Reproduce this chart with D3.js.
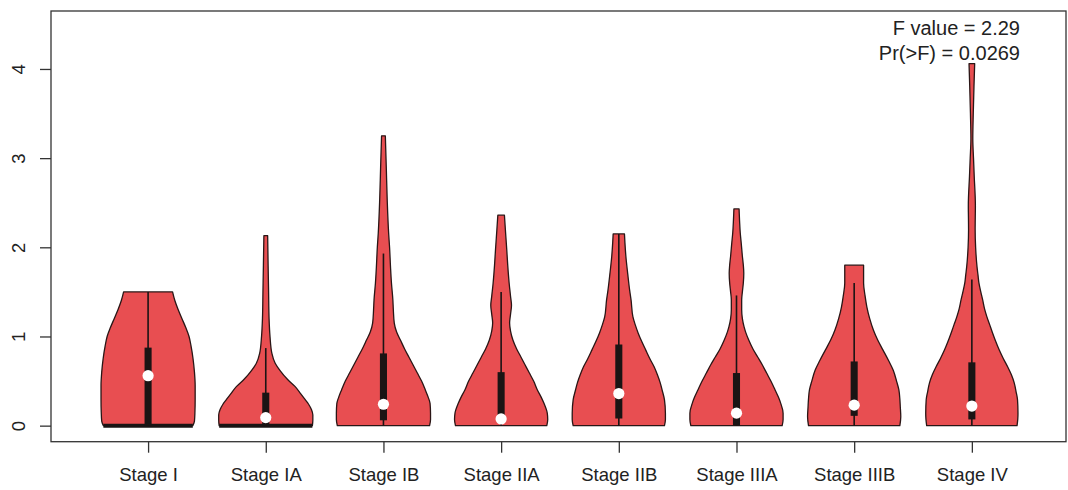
<!DOCTYPE html>
<html>
<head>
<meta charset="utf-8">
<script src="https://cdn.jsdelivr.net/npm/d3@7"></script>
<style>
  body { margin: 0; background: #fff; }
  svg { display: block; font-family: "Liberation Sans", Arial, sans-serif; }
</style>
</head>
<body>
<svg id="chart"></svg>
<script>
// groups on the x axis
const stages = ["Stage I", "Stage IA", "Stage IB", "Stage IIA", "Stage IIB", "Stage IIIA", "Stage IIIB", "Stage IV"];

// violin outlines: [value, density relative to the group's own max]
const profiles = [
  [[0,0.95],[0.05,0.985],[0.15,0.995],[0.3,1.0],[0.45,1.0],[0.6,0.985],[0.75,0.955],[0.9,0.91],[1.0,0.87],[1.1,0.8],[1.2,0.72],[1.3,0.64],[1.4,0.57],[1.5,0.52]],
  [[0,0.99],[0.06,1.0],[0.12,1.0],[0.18,0.97],[0.24,0.91],[0.29,0.84],[0.36,0.74],[0.44,0.62],[0.52,0.46],[0.62,0.3],[0.7,0.2],[0.81,0.13],[1.0,0.09],[1.2,0.07],[1.5,0.06],[1.8,0.05],[2.13,0.04]],
  [[0,0.98],[0.07,1.0],[0.14,1.0],[0.25,0.99],[0.32,0.95],[0.4,0.89],[0.5,0.81],[0.59,0.72],[0.68,0.63],[0.77,0.54],[0.86,0.45],[0.96,0.36],[1.05,0.28],[1.15,0.23],[1.3,0.21],[1.41,0.2],[1.6,0.17],[1.78,0.15],[2.0,0.13],[2.16,0.11],[2.53,0.08],[2.9,0.06],[3.25,0.04]],
  [[0,0.97],[0.07,0.99],[0.14,0.98],[0.25,0.91],[0.32,0.85],[0.4,0.77],[0.5,0.69],[0.59,0.6],[0.68,0.51],[0.77,0.42],[0.86,0.33],[0.96,0.25],[1.06,0.2],[1.15,0.18],[1.25,0.2],[1.35,0.22],[1.45,0.2],[1.6,0.17],[1.8,0.14],[1.97,0.12],[2.2,0.09],[2.36,0.07]],
  [[0,0.97],[0.07,0.99],[0.14,0.99],[0.29,0.97],[0.4,0.92],[0.48,0.88],[0.57,0.82],[0.66,0.75],[0.75,0.66],[0.85,0.57],[0.94,0.49],[1.04,0.41],[1.13,0.35],[1.22,0.3],[1.41,0.26],[1.52,0.23],[1.7,0.19],[1.9,0.15],[2.05,0.13],[2.15,0.12]],
  [[0,0.97],[0.07,0.99],[0.14,0.99],[0.25,0.94],[0.32,0.89],[0.4,0.82],[0.5,0.73],[0.59,0.64],[0.68,0.55],[0.77,0.45],[0.86,0.35],[0.96,0.26],[1.04,0.2],[1.11,0.16],[1.2,0.125],[1.3,0.11],[1.41,0.11],[1.5,0.125],[1.6,0.145],[1.71,0.155],[1.8,0.145],[1.9,0.125],[2.05,0.1],[2.16,0.08],[2.3,0.065],[2.43,0.055]],
  [[0,0.97],[0.1,0.99],[0.21,0.98],[0.3,0.97],[0.4,0.95],[0.5,0.9],[0.62,0.83],[0.73,0.73],[0.85,0.61],[0.96,0.5],[1.07,0.41],[1.2,0.33],[1.33,0.27],[1.46,0.23],[1.6,0.2],[1.7,0.2],[1.8,0.2]],
  [[0,0.96],[0.07,0.975],[0.14,0.98],[0.29,0.97],[0.38,0.94],[0.48,0.9],[0.57,0.84],[0.66,0.76],[0.75,0.67],[0.85,0.58],[0.94,0.51],[1.04,0.44],[1.13,0.38],[1.22,0.32],[1.31,0.27],[1.41,0.23],[1.5,0.19],[1.6,0.15],[1.69,0.13],[1.78,0.11],[2.0,0.08],[2.2,0.07],[2.47,0.075],[2.8,0.05],[3.0,0.035],[3.22,0.02],[3.5,0.03],[3.8,0.045],[4.06,0.06]]
];

// box plot summaries
const whiskerLow  = [0, 0, 0, 0, 0, 0, 0, 0];
const boxLow      = [0, 0, 0.06, 0.03, 0.08, 0, 0.11, 0.07];
const boxHigh     = [0.875, 0.37, 0.81, 0.6, 0.91, 0.59, 0.72, 0.71];
const medians     = [0.56, 0.09, 0.24, 0.075, 0.36, 0.14, 0.23, 0.22];
const whiskerHigh = [1.5, 0.87, 1.93, 1.5, 2.15, 1.46, 1.6, 1.64];

// groups with a pile of zeros (drawn as a heavy base line)
const zeroHeavy = ["Stage I", "Stage IA"];

const yTicks = [0, 1, 2, 3, 4];
const statsText = ["F value = 2.29", "Pr(>F) = 0.0269"];

let width = 1068;
let height = 490;
let plotLeft = 51, plotRight = 1066, plotTop = 11, plotBottom = 441.7;
let halfMax = 0.4;     // max violin half width, in x units
let boxHalf = 0.03;
let fillColor = "#e84e51";
let lineColor = "#2a1616";

let svg = d3.select("#chart").attr("width", width).attr("height", height);

let xScale = d3.scaleLinear().domain([0.175, 8.8]).range([plotLeft, plotRight]);
let yScale = d3.scaleLinear().domain([-0.18, 4.65]).range([plotBottom, plotTop]);

// violins
stages.forEach((s, i) => {
  let c = i + 1;
  let area = d3.area()
    .curve(d3.curveMonotoneY)
    .y(d => yScale(d[0]))
    .x0(d => xScale(c - halfMax * d[1]))
    .x1(d => xScale(c + halfMax * d[1]));

  let g = svg.append("g").attr("class", "violin");

  g.append("path")
    .datum(profiles[i])
    .attr("d", area)
    .attr("fill", fillColor)
    .attr("stroke", lineColor)
    .attr("stroke-width", 1.3)
    .attr("stroke-linejoin", "round");

  if (zeroHeavy.includes(s)) {
    let w0 = profiles[i][0][1];
    g.append("line")
      .attr("x1", xScale(c - halfMax * w0))
      .attr("x2", xScale(c + halfMax * w0))
      .attr("y1", yScale(0))
      .attr("y2", yScale(0))
      .attr("stroke", "#1a1414")
      .attr("stroke-width", 4);
  }

  g.append("line")
    .attr("x1", xScale(c)).attr("x2", xScale(c))
    .attr("y1", yScale(whiskerLow[i])).attr("y2", yScale(whiskerHigh[i]))
    .attr("stroke", "#1a1414")
    .attr("stroke-width", 1.6);

  g.append("rect")
    .attr("x", xScale(c - boxHalf))
    .attr("width", xScale(c + boxHalf) - xScale(c - boxHalf))
    .attr("y", yScale(boxHigh[i]))
    .attr("height", yScale(boxLow[i]) - yScale(boxHigh[i]))
    .attr("fill", "#1a1414");

  g.append("circle")
    .attr("cx", xScale(c))
    .attr("cy", yScale(medians[i]))
    .attr("r", 5.6)
    .attr("fill", "#fff");
});

// frame
svg.append("rect")
  .attr("x", plotLeft).attr("y", plotTop)
  .attr("width", plotRight - plotLeft).attr("height", plotBottom - plotTop)
  .attr("fill", "none")
  .attr("stroke", "#333")
  .attr("stroke-width", 1.3);

// y axis
let yAxis = svg.append("g")
  .attr("transform", "translate(" + plotLeft + ",0)")
  .call(d3.axisLeft(yScale).tickValues(yTicks).tickSize(11).tickFormat(d3.format("d")));
yAxis.select(".domain").remove();
yAxis.selectAll(".tick line").attr("stroke", "#333").attr("stroke-width", 1.3);
yAxis.selectAll(".tick text")
  .attr("x", 0).attr("dy", 0)
  .attr("text-anchor", "middle")
  .attr("transform", "translate(-26,0) rotate(-90)")
  .attr("font-size", 18.5)
  .attr("font-family", "Liberation Sans, Arial, sans-serif")
  .attr("fill", "#222");

// x axis
let xAxis = svg.append("g")
  .attr("transform", "translate(0," + plotBottom + ")")
  .call(d3.axisBottom(xScale).tickValues(d3.range(1, stages.length + 1)).tickSize(11).tickFormat(d => stages[d - 1]));
xAxis.select(".domain").remove();
xAxis.selectAll(".tick line").attr("stroke", "#333").attr("stroke-width", 1.3);
xAxis.selectAll(".tick text")
  .attr("y", 39.5).attr("dy", 0)
  .attr("font-size", 18.5)
  .attr("font-family", "Liberation Sans, Arial, sans-serif")
  .attr("fill", "#222");

// test statistics
svg.selectAll(".stat")
  .data(statsText)
  .enter()
  .append("text")
  .attr("class", "stat")
  .attr("x", 1020)
  .attr("y", (d, i) => 35 + i * 25)
  .attr("text-anchor", "end")
  .attr("font-size", 20)
  .attr("fill", "#222")
  .text(d => d);
</script>
</body>
</html>
